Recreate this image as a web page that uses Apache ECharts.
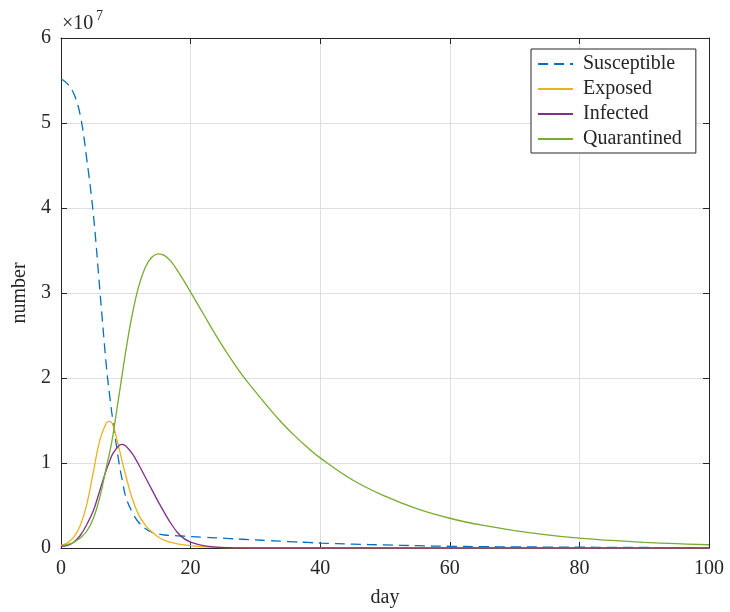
<!DOCTYPE html>
<html>
<head>
<meta charset="utf-8">
<script src="https://cdn.jsdelivr.net/npm/echarts@6/dist/echarts.min.js"></script>
<style>html,body{margin:0;padding:0;background:#fff}#c{width:730px;height:612px}</style>
</head>
<body>
<div id="c"></div>
<script>
// Data (values in units of 1e7)
const days = [0,1,2,3,4,5,6,7,7.5,8,9,9.5,10,11,12,13,14,15,16,17,18,19,20,22,24,26,28,30,32,34,36,38,40,45,50,55,60,65,70,75,80,85,90,95,100];
const susceptible = [5.52,5.46,5.34,5.08,4.56,3.92,3.03,2.14,1.80,1.50,0.98,0.78,0.60,0.42,0.30,0.23,0.185,0.165,0.153,0.147,0.143,0.139,0.135,0.127,0.119,0.111,0.103,0.095,0.087,0.080,0.072,0.065,0.058,0.046,0.036,0.027,0.020,0.016,0.013,0.011,0.009,0.008,0.006,0.005,0.004];
const exposed = [0.03,0.06,0.13,0.27,0.52,0.90,1.27,1.47,1.49,1.45,1.16,1.00,0.85,0.58,0.39,0.27,0.19,0.13,0.09,0.065,0.048,0.036,0.027,0.014,0.007,0.003,0.001,0,0,0,0,0,0,0,0,0,0,0,0,0,0,0,0,0,0];
const infected = [0.02,0.03,0.07,0.15,0.28,0.44,0.68,0.92,1.02,1.11,1.21,1.22,1.20,1.11,0.98,0.835,0.69,0.545,0.41,0.285,0.18,0.11,0.07,0.028,0.011,0.004,0.001,0,0,0,0,0,0,0,0,0,0,0,0,0,0,0,0,0,0];
const quarantined = [0.03,0.04,0.07,0.12,0.20,0.35,0.60,0.95,1.12,1.32,1.82,2.07,2.32,2.75,3.08,3.30,3.42,3.46,3.44,3.37,3.26,3.14,3.01,2.75,2.49,2.25,2.03,1.84,1.655,1.48,1.325,1.185,1.06,0.80,0.61,0.46,0.35,0.268,0.205,0.155,0.117,0.089,0.067,0.051,0.038];
const seriesNames = ['Susceptible','Exposed','Infected','Quarantined'];
const seriesColors = ['#0072BD','#EDB120','#7E2F8E','#77AC30'];
const yTicks = [0,1,2,3,4,5,6];
const xTicks = [0,20,40,60,80,100];

const SCALE = 1e7;
const values = [susceptible, exposed, infected, quarantined];
const FONT = '"Liberation Serif", "Times New Roman", serif';
const AX = '#262626';

const chart = echarts.init(document.getElementById('c'), null, {renderer:'canvas'});
const series = values.map((arr, i) => ({
  name: seriesNames[i],
  type: 'line',
  data: days.map((d, k) => [d, arr[k] * SCALE]),
  showSymbol: false,
  symbol: 'none',
  smooth: 0.4,
  lineStyle: {color: seriesColors[i], width: 1.3, type: i === 0 ? [10, 6] : 'solid'},
  itemStyle: {color: seriesColors[i]},
  z: 2 + i,
  animation: false
}));

const baseAxis = {
  type: 'value',
  axisLine: {show: true, onZero: false, lineStyle: {color: AX, width: 1}},
  axisTick: {show: true, inside: true, length: 6, lineStyle: {color: AX}},
};

chart.setOption({
  animation: false,
  backgroundColor: '#fff',
  grid: {left: 61, right: 21, top: 38, bottom: 64, containLabel: false, outerBoundsMode: 'none'},
  xAxis: [
    Object.assign({}, baseAxis, {
      min: xTicks[0], max: xTicks[xTicks.length-1], interval: 20, position: 'bottom',
      name: 'day', nameLocation: 'middle', nameGap: 40,
      nameTextStyle: {fontFamily: FONT, fontSize: 20, color: AX},
      axisLabel: {fontFamily: FONT, fontSize: 20, color: AX, margin: 11},
      splitLine: {show: true, lineStyle: {color: '#dfdfdf', width: 1}}
    }),
    Object.assign({}, baseAxis, {
      min: xTicks[0], max: xTicks[xTicks.length-1], interval: 20, position: 'top',
      axisLabel: {show: false}, splitLine: {show: false}
    })
  ],
  yAxis: [
    Object.assign({}, baseAxis, {
      min: yTicks[0]*SCALE, max: yTicks[yTicks.length-1]*SCALE, interval: SCALE, position: 'left',
      name: 'number', nameLocation: 'middle', nameGap: 24, nameRotate: 90,
      nameTextStyle: {fontFamily: FONT, fontSize: 20, color: AX},
      axisLabel: {fontFamily: FONT, fontSize: 20, color: AX, margin: 10, formatter: v => String(Math.round(v / SCALE))},
      splitLine: {show: true, lineStyle: {color: '#dfdfdf', width: 1}}
    }),
    Object.assign({}, baseAxis, {
      min: yTicks[0]*SCALE, max: yTicks[yTicks.length-1]*SCALE, interval: SCALE, position: 'right',
      axisLabel: {show: false}, splitLine: {show: false}
    })
  ],
  legend: {
    data: seriesNames,
    orient: 'vertical',
    left: 531, top: 49,
    padding: [5, 14, 4, 6],
    itemWidth: 35, itemHeight: 14,
    itemGap: 5,
    borderColor: AX, borderWidth: 1, borderRadius: 0,
    backgroundColor: '#fff',
    itemStyle: {opacity: 0},
    textStyle: {fontFamily: FONT, fontSize: 20, color: AX, lineHeight: 20, padding: [0,0,0,5]}
  },
  graphic: [
    {type: 'text', x: 62, y: 14, style: {text: '×10', font: '20px ' + FONT, fill: AX}},
    {type: 'text', x: 96, y: 9, style: {text: '7', font: '14px ' + FONT, fill: AX}}
  ],
  series: series
});
</script>
</body>
</html>
